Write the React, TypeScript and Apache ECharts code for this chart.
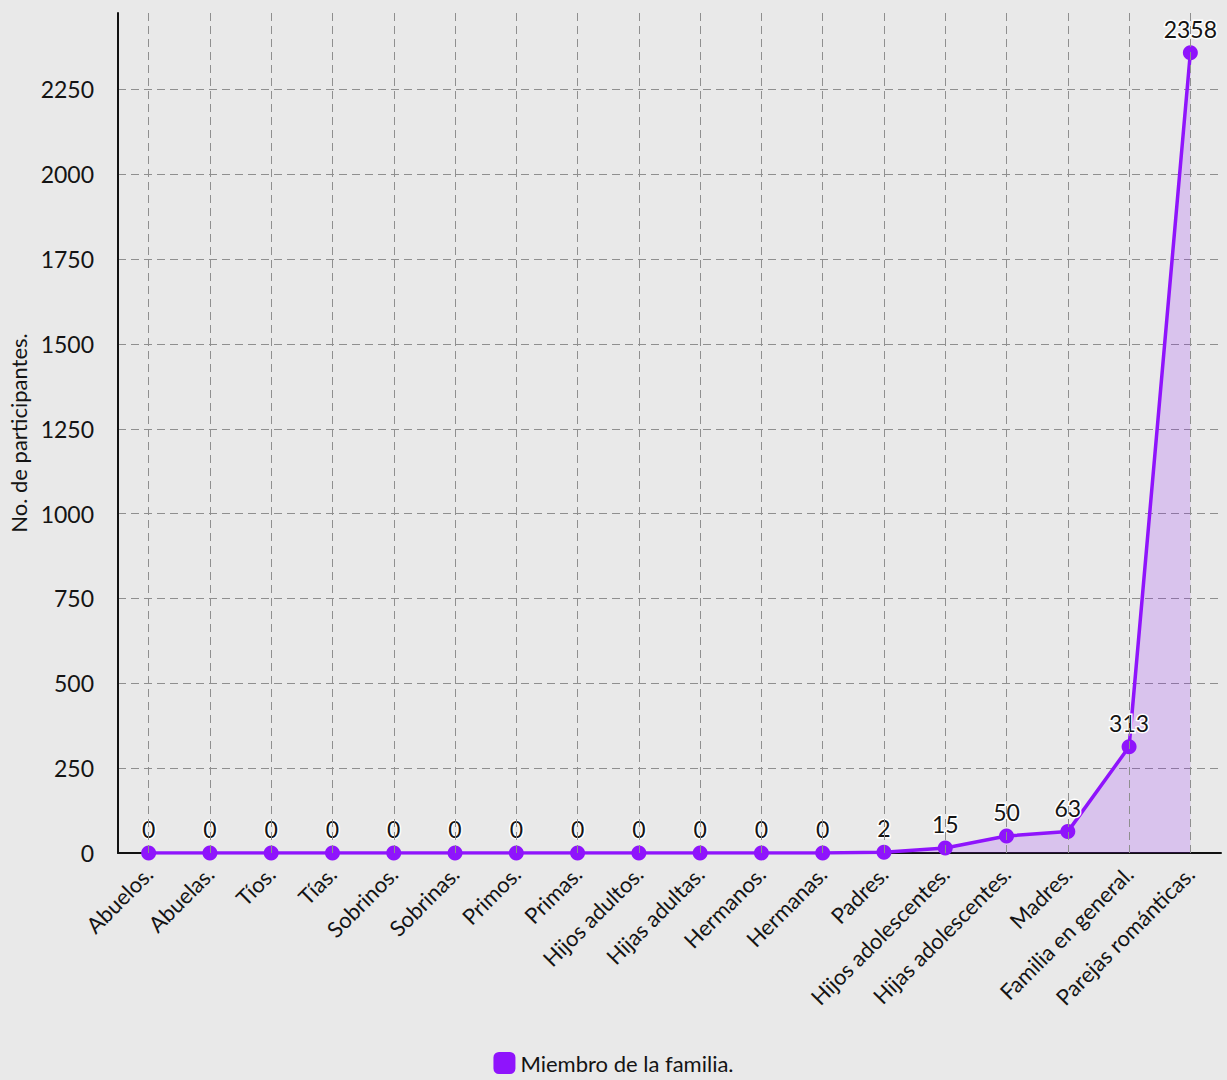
import React, { useEffect, useRef } from "react";
import * as echarts from "echarts";

// Family members and the number of participants for each one
const categories: string[] = [
  "Abuelos.",
  "Abuelas.",
  "Tíos.",
  "Tías.",
  "Sobrinos.",
  "Sobrinas.",
  "Primos.",
  "Primas.",
  "Hijos adultos.",
  "Hijas adultas.",
  "Hermanos.",
  "Hermanas.",
  "Padres.",
  "Hijos adolescentes.",
  "Hijas adolescentes.",
  "Madres.",
  "Familia en general.",
  "Parejas románticas.",
];

const participants: number[] = [0, 0, 0, 0, 0, 0, 0, 0, 0, 0, 0, 0, 2, 15, 50, 63, 313, 2358];

const seriesName = "Miembro de la familia.";
const yAxisTitle = "No. de participantes.";

const FONT = "Lato, 'Noto Sans', sans-serif";
const PURPLE = "#8f14fc";
const GRID_DASH = "#8f8f8f";
const INK = "#141414";

export default function App() {
  const ref = useRef<HTMLDivElement>(null);

  useEffect(() => {
    document.body.style.margin = "0";
    if (!ref.current) return;
    const chart = echarts.init(ref.current, undefined, { renderer: "svg" });

    chart.setOption({
      animation: false,
      backgroundColor: "#e9e9e9",
      textStyle: { fontFamily: FONT },
      grid: {
        left: 118,
        right: 6,
        top: 13,
        bottom: 227,
        containLabel: false,
        outerBoundsMode: "none",
      },
      legend: {
        bottom: 1,
        left: "center",
        icon: "roundRect",
        itemWidth: 22,
        itemHeight: 22,
        itemGap: 10,
        textStyle: { fontSize: 22, color: INK, fontFamily: FONT },
        data: [seriesName],
      },
      xAxis: {
        type: "category",
        data: categories,
        boundaryGap: true,
        axisLine: { show: true, lineStyle: { color: "#111", width: 2 } },
        axisTick: { show: false },
        splitLine: { show: false },
        axisLabel: {
          interval: 0,
          rotate: 45,
          margin: 17,
          fontSize: 22,
          color: INK,
          fontFamily: FONT,
        },
      },
      yAxis: {
        type: "value",
        min: 0,
        max: 2475,
        interval: 250,
        name: yAxisTitle,
        nameLocation: "middle",
        nameGap: 89,
        nameTextStyle: { fontSize: 22, color: INK, fontFamily: FONT },
        axisLine: { show: true, lineStyle: { color: "#111", width: 2 } },
        axisTick: { show: false },
        axisLabel: {
          margin: 24,
          fontSize: 23,
          color: INK,
          fontFamily: FONT,
          showMaxLabel: false,
          formatter: (v: number) => (v % 250 === 0 ? String(v) : ""),
        },
        splitLine: {
          show: true,
          showMaxLine: false,
          showMinLine: false,
          lineStyle: { color: GRID_DASH, type: [8, 5], width: 1 },
        },
      },
      series: [
        {
          name: seriesName,
          type: "line",
          data: participants,
          color: PURPLE,
          symbol: "circle",
          symbolSize: 15,
          lineStyle: { color: PURPLE, width: 3.5 },
          itemStyle: { color: PURPLE },
          areaStyle: { color: "rgba(144, 19, 254, 0.25)" },
          label: {
            show: true,
            position: "top",
            distance: 5,
            fontSize: 23,
            color: INK,
            fontFamily: FONT,
            textBorderColor: "#ffffff",
            textBorderWidth: 3,
          },
          markLine: {
            silent: true,
            symbol: ["none", "none"],
            label: { show: false },
            emphasis: { disabled: true },
            lineStyle: { color: GRID_DASH, type: [8, 5], width: 1 },
            data: categories.map((c) => ({ xAxis: c })),
          },
        },
      ],
    });

    return () => chart.dispose();
  }, []);

  return <div ref={ref} style={{ width: 1227, height: 1080 }} />;
}
